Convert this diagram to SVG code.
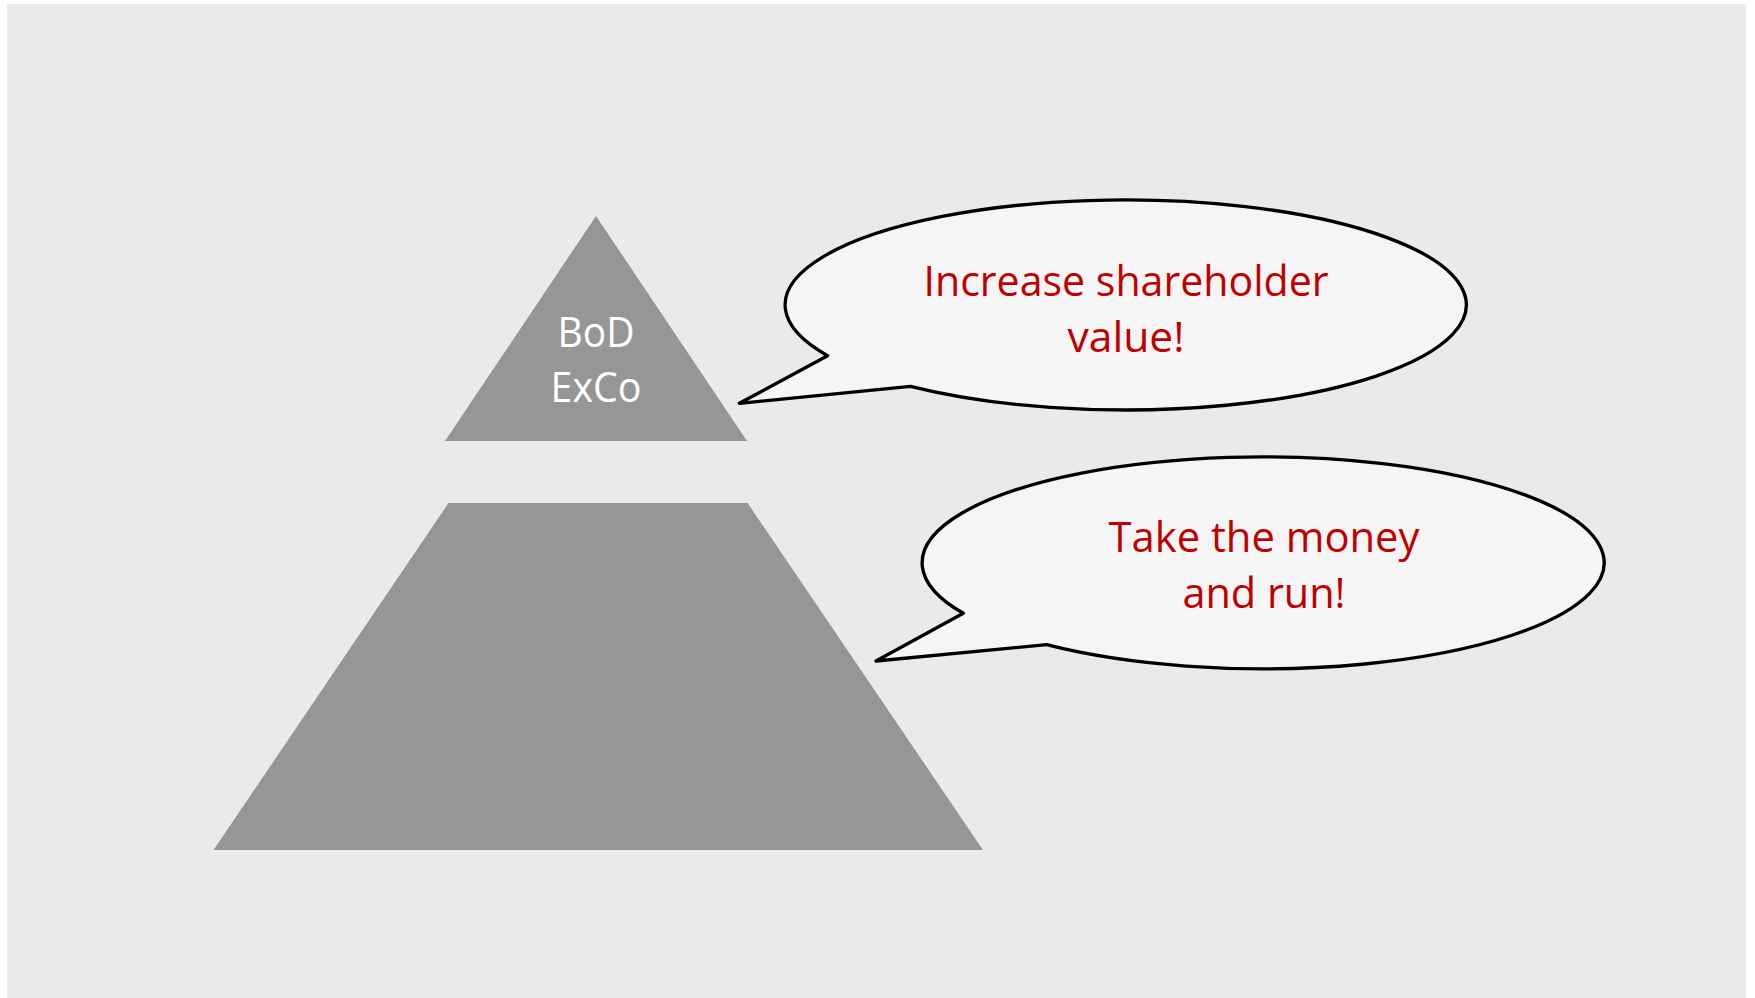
<svg xmlns="http://www.w3.org/2000/svg" width="1755" height="998" viewBox="0 0 1755 998">
  <style>
    .tier { fill: #969696; }
    .bubble { fill: #F5F5F5; stroke: #000000; stroke-width: 3.3; stroke-linejoin: round; }
    .lbl { font-family: "Open Sans", "Liberation Sans", sans-serif; font-size: 42px; text-anchor: middle; }
    .white { fill: #FFFFFF; }
    .red { fill: #C00000; }
  </style>
  <rect x="0" y="0" width="1755" height="998" fill="#FFFFFF"/>
  <rect x="7" y="4" width="1739" height="994" fill="#EAEAEA"/>

  <g id="top-tier">
    <polygon class="tier" points="596,216 747,441 445,441"/>
    <text class="lbl white" x="596" y="346.5" textLength="77" lengthAdjust="spacingAndGlyphs">BoD</text>
    <text class="lbl white" x="596" y="401.5" textLength="91" lengthAdjust="spacingAndGlyphs">ExCo</text>
  </g>

  <g id="bottom-tier">
    <polygon class="tier" points="448.5,503 747.5,503 983,850 213.5,850"/>
  </g>

  <g id="bubble-top">
    <path class="bubble" d="M 827.6 355.7 L 739.4 403.3 L 910.5 386.3 A 340.6 105 0 1 0 827.6 355.7 Z"/>
    <text class="lbl red" x="1126" y="296" textLength="405" lengthAdjust="spacingAndGlyphs">Increase shareholder</text>
    <text class="lbl red" x="1126" y="351.5" textLength="117" lengthAdjust="spacingAndGlyphs">value!</text>
  </g>

  <g id="bubble-bottom">
    <path class="bubble" d="M 963.3 613.3 L 876 661 L 1046.6 644.7 A 341 106 0 1 0 963.3 613.3 Z"/>
    <text class="lbl red" x="1264" y="551.5" textLength="311" lengthAdjust="spacingAndGlyphs">Take the money</text>
    <text class="lbl red" x="1264" y="608" textLength="163" lengthAdjust="spacingAndGlyphs">and run!</text>
  </g>

  <g id="connectors"/>
</svg>
